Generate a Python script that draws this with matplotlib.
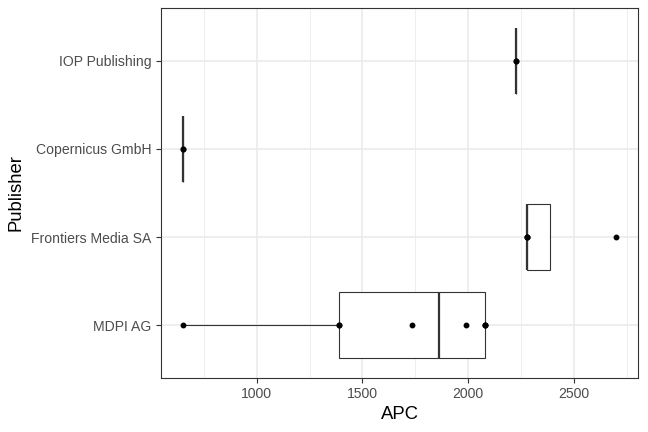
import numpy as np
import matplotlib
matplotlib.use('Agg')
import matplotlib.pyplot as plt
from matplotlib import cbook
from matplotlib.ticker import MultipleLocator

# Data
publishers = ['MDPI AG', 'Frontiers Media SA', 'Copernicus GmbH', 'IOP Publishing']
apc_mdpi = [650, 1387, 1387, 1732, 1991, 2079, 2079, 2079]
apc_frontiers = [2279, 2279, 2279, 2700]
apc_copernicus = [650, 650]
apc_iop = [2228, 2228]
groups = [apc_mdpi, apc_frontiers, apc_copernicus, apc_iop]

plt.rcParams['font.family'] = ['Liberation Sans', 'DejaVu Sans']

fig = plt.figure(figsize=(6.48, 4.32), dpi=100)
ax = fig.add_axes([161 / 648, 1 - 378 / 432, (638 - 161) / 648, (378 - 8) / 432])

border = '#333333'
grid = '#EBEBEB'

# grid lines (ggplot theme_bw)
ax.xaxis.set_major_locator(MultipleLocator(500))
ax.xaxis.set_minor_locator(MultipleLocator(250))
ax.grid(which='major', color=grid, linewidth=1.2, zorder=0)
ax.grid(which='minor', axis='x', color=grid, linewidth=0.6, zorder=0)
ax.set_axisbelow(True)

pos = np.arange(1, len(groups) + 1)
stats = []
for g in groups:
    stats.append(cbook.boxplot_stats(np.array(g, dtype=float), whis=1.5)[0])

ax.bxp(stats, positions=pos, widths=0.75, orientation='horizontal',
       showfliers=False, showcaps=False, patch_artist=True,
       boxprops=dict(facecolor='white', edgecolor=border, linewidth=0.8),
       whiskerprops=dict(color=border, linewidth=0.8),
       medianprops=dict(color=border, linewidth=1.6),
       manage_ticks=False, zorder=2)

for p, g in zip(pos, groups):
    ax.plot(g, [p] * len(g), 'o', color='black', markersize=3.2, zorder=3,
            linestyle='none')

allv = np.concatenate([np.array(g) for g in groups])
lo, hi = allv.min(), allv.max()
pad = 0.05 * (hi - lo)
ax.set_xlim(lo - pad, hi + pad)
ax.set_ylim(0.4, 4.6)
ax.set_yticks(pos)
ax.set_yticklabels(publishers)

for s in ax.spines.values():
    s.set_color(border)
    s.set_linewidth(0.8)
ax.tick_params(which='major', length=3.8, width=0.8, color=border,
               labelcolor='#4D4D4D', labelsize=10.1, pad=3)
ax.tick_params(which='minor', length=0)

ax.set_xlabel('APC', fontsize=13.3, color='black', labelpad=3)
ax.set_ylabel('Publisher', fontsize=13.3, color='black', labelpad=5)

fig.savefig('out.png', dpi=100)
